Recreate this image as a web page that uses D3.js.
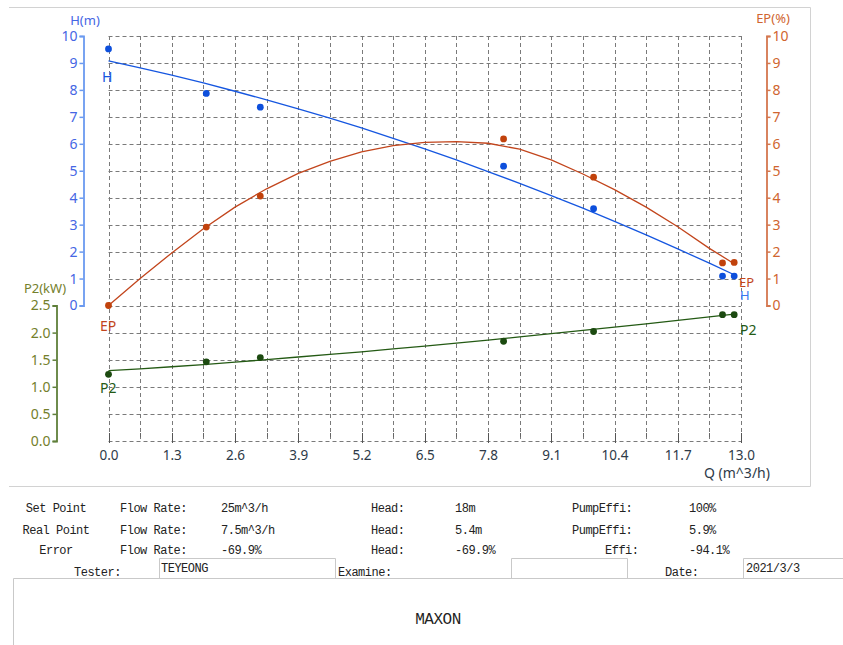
<!DOCTYPE html>
<html>
<head>
<meta charset="utf-8">
<script src="https://cdn.jsdelivr.net/npm/d3@7/dist/d3.min.js"></script>
<style>
  html, body { margin: 0; padding: 0; background: #fff; }
  svg { display: block; }
  .tbl { font-family: "Liberation Mono", "DejaVu Sans Mono", monospace; font-size: 12px; fill: #222; letter-spacing: -0.5px; }
</style>
</head>
<body>
<svg id="chart" width="843" height="645"></svg>
<script>
// Measured test points: flow (m^3/h), head (m), efficiency (%), shaft power (kW)
const flowPts  = [0, 2.01, 3.12, 8.12, 9.97, 12.62, 12.86];
const headPts  = [9.52, 7.87, 7.36, 5.17, 3.59, 1.09, 1.09];
const effPts   = [0, 2.91, 4.06, 6.18, 4.76, 1.58, 1.60];
const powerPts = [1.23, 1.46, 1.54, 1.84, 2.02, 2.33, 2.33];

// Fitted performance curves, sampled along the flow axis
const curveQ   = [0, 0.65, 1.3, 1.95, 2.6, 3.25, 3.9, 4.55, 5.2, 5.85, 6.5, 7.15, 7.8, 8.45, 9.1, 9.75, 10.4, 11.05, 11.7, 12.35, 12.86];
const headFit  = [9.08, 8.82, 8.55, 8.26, 7.95, 7.63, 7.30, 6.95, 6.59, 6.20, 5.81, 5.40, 4.97, 4.53, 4.08, 3.61, 3.12, 2.62, 2.10, 1.57, 1.14];
const effFit   = [0, 1.00, 1.95, 2.85, 3.65, 4.33, 4.90, 5.35, 5.70, 5.93, 6.05, 6.08, 6.02, 5.80, 5.40, 4.88, 4.30, 3.65, 2.92, 2.12, 1.55];
const powerFit = [1.30, 1.33, 1.37, 1.41, 1.455, 1.50, 1.55, 1.60, 1.645, 1.70, 1.75, 1.805, 1.86, 1.92, 1.98, 2.04, 2.10, 2.16, 2.225, 2.29, 2.34];

// Axis ticks
const xTicks     = [0, 1.3, 2.6, 3.9, 5.2, 6.5, 7.8, 9.1, 10.4, 11.7, 13.0];
const xMinor     = [0.65, 1.95, 3.25, 4.55, 5.85, 7.15, 8.45, 9.75, 11.05, 12.35];
const headTicks  = [0, 1, 2, 3, 4, 5, 6, 7, 8, 9, 10];
const powerTicks = [0, 0.5, 1.0, 1.5, 2.0, 2.5];

// Report table
const tableRows = [
  ["Set Point",  "Flow Rate:", "25m^3/h",  "Head:", "18m",    "PumpEffi:", "100%"],
  ["Real Point", "Flow Rate:", "7.5m^3/h", "Head:", "5.4m",   "PumpEffi:", "5.9%"],
  ["Error",      "Flow Rate:", "-69.9%",   "Head:", "-69.9%", "Effi:",     "-94.1%"]
];
const footer = { tester: "TEYEONG", date: "2021/3/3", company: "MAXON" };

const svg = d3.select("#chart");
svg.append("rect").attr("width", 843).attr("height", 645).attr("fill", "#fff");

const x  = d3.scaleLinear().domain([0, 13]).range([108.5, 741]);
const yH = d3.scaleLinear().domain([0, 10]).range([305.5, 36]);
const yE = d3.scaleLinear().domain([0, 10]).range([305.5, 36]);
const yP = d3.scaleLinear().domain([0, 2.5]).range([441, 305.5]);

const C = {
  head: "#1556e0", headAxis: "#6b9af0", headText: "#4566e4",
  eff: "#c2451c", effAxis: "#d4774f", effText: "#d0652f",
  pow: "#245a14", powAxis: "#5f7f3a", powText: "#74802c",
  grid: "#7a7a7a", frame: "#d2d2d2"
};

// Outer frame of the plot panel
svg.append("path").attr("d", "M9,7.5H810.5V486.5H9")
  .attr("stroke", C.frame).attr("fill", "none");

// Grid
const grid = svg.append("g").attr("stroke", C.grid).attr("stroke-dasharray", "4,3").attr("stroke-width", 1);
[...xTicks, ...xMinor].forEach(q => {
  const px = Math.round(x(q)) + 0.5;
  grid.append("line").attr("x1", px).attr("x2", px).attr("y1", yH(10)).attr("y2", yP(0));
});
headTicks.forEach(v => {
  const py = Math.round(yH(v)) + 0.5;
  grid.append("line").attr("x1", x(0)).attr("x2", x(13)).attr("y1", py).attr("y2", py);
});
powerTicks.slice(0, 5).forEach(v => {
  const py = Math.round(yP(v)) + 0.5;
  grid.append("line").attr("x1", x(0)).attr("x2", x(13)).attr("y1", py).attr("y2", py);
});

// X axis: ticks and labels
const xAxis = svg.append("g").attr("transform", `translate(0,${yP(0)})`);
xAxis.call(d3.axisBottom(x).tickValues(xTicks).tickFormat(d3.format(".1f")).tickSize(0).tickPadding(9));
xAxis.select(".domain").remove();
xAxis.selectAll("text").attr("font-family", "Noto Sans, sans-serif").attr("font-size", 13.5).attr("fill", "#2e3a48");
xTicks.forEach(q => {
  const px = Math.round(x(q)) + 0.5;
  xAxis.append("line").attr("x1", px).attr("x2", px).attr("y1", -8).attr("y2", 2).attr("stroke", "#555");
});
xMinor.forEach(q => {
  const px = Math.round(x(q)) + 0.5;
  xAxis.append("line").attr("x1", px).attr("x2", px).attr("y1", -8).attr("y2", -4).attr("stroke", "#666");
});
svg.append("text").attr("x", 704).attr("y", 478).text("Q (m^3/h)")
  .attr("font-family", "Noto Sans, sans-serif").attr("font-size", 14).attr("fill", "#2e3a48");

// Y axes
function styleAxis(g, lineColor, textColor) {
  g.selectAll(".domain").attr("stroke", lineColor).attr("stroke-width", 1.8);
  g.selectAll(".tick line").attr("stroke", lineColor).attr("stroke-width", 1.5);
  g.selectAll("text").attr("font-family", "Noto Sans, sans-serif").attr("font-size", 14).attr("fill", textColor);
}
const hAxis = svg.append("g").attr("transform", "translate(83.5,0)")
  .call(d3.axisLeft(yH).tickValues(headTicks).tickSize(4).tickPadding(2));
styleAxis(hAxis, C.headAxis, C.headText);

const eAxis = svg.append("g").attr("transform", "translate(766.5,0)")
  .call(d3.axisRight(yE).tickValues(headTicks).tickSize(4).tickPadding(2));
styleAxis(eAxis, C.effAxis, C.effText);

const pAxis = svg.append("g").attr("transform", "translate(56.5,0)")
  .call(d3.axisLeft(yP).tickValues(powerTicks).tickFormat(d3.format(".1f")).tickSize(4).tickPadding(2));
styleAxis(pAxis, C.powAxis, C.powText);

const axTitle = (tx, ty, t, col) => svg.append("text").attr("x", tx).attr("y", ty).text(t)
  .attr("font-family", "Noto Sans, sans-serif").attr("font-size", 13).attr("fill", col).attr("text-anchor", "middle");
axTitle(85, 25, "H(m)", C.headText);
axTitle(773, 23, "EP(%)", C.effText);
axTitle(45, 293, "P2(kW)", C.powText);

// Fitted curves
const series = [
  { fit: headFit,  pts: headPts,  y: yH, line: C.head, dot: "#0d4fdc" },
  { fit: effFit,   pts: effPts,   y: yE, line: C.eff,  dot: "#c1420c" },
  { fit: powerFit, pts: powerPts, y: yP, line: C.pow,  dot: "#1c4a10" }
];
series.forEach(s => {
  const line = d3.line().x(d => x(d[0])).y(d => s.y(d[1]));
  svg.append("path").datum(curveQ.map((q, i) => [q, s.fit[i]]))
    .attr("d", line).attr("fill", "none").attr("stroke", s.line).attr("stroke-width", 1.3);
});
series.forEach(s => {
  svg.append("g").selectAll("circle").data(flowPts.map((q, i) => [q, s.pts[i]])).join("circle")
    .attr("cx", d => x(d[0])).attr("cy", d => s.y(d[1])).attr("r", 3.4).attr("fill", s.dot);
});

// Curve name labels at both ends
const curveLabel = (tx, ty, t, col, fs = 14) => svg.append("text").attr("x", tx).attr("y", ty).text(t)
  .attr("font-family", "Noto Sans, sans-serif").attr("font-size", fs).attr("fill", col);
curveLabel(102, 82, "H", C.head);
curveLabel(100, 331, "EP", C.eff);
curveLabel(100, 393, "P2", C.pow);
curveLabel(739, 287, "EP", C.eff, 13);
curveLabel(740, 300, "H", "#3a78f0", 13);
curveLabel(740, 335, "P2", C.pow);

// Report table
const colX = [56, 120, 221, 371, 455, 572, 689];
const rowY = [512, 534, 554];
const tbl = svg.append("g").attr("class", "tbl");
tableRows.forEach((row, r) => {
  row.forEach((cell, c) => {
    const cx = (c === 5 && r === 2) ? 605 : colX[c];
    const t = tbl.append("text").attr("x", cx).attr("y", rowY[r]).text(cell);
    if (c === 0) t.attr("text-anchor", "middle");
  });
});
tbl.append("text").attr("x", 74).attr("y", 576).text("Tester:");
tbl.append("text").attr("x", 161).attr("y", 572).text(footer.tester);
tbl.append("text").attr("x", 338).attr("y", 576).text("Examine:");
tbl.append("text").attr("x", 665).attr("y", 576).text("Date:");
tbl.append("text").attr("x", 746).attr("y", 572).text(footer.date);
tbl.append("text").attr("x", 438).attr("y", 624).attr("text-anchor", "middle")
  .attr("font-size", 16).text(footer.company);

const lines = svg.append("g").attr("stroke", "#c9c9c9").attr("fill", "none");
lines.append("path").attr("d", "M13.5,645V578.5H843");
lines.append("path").attr("d", "M159.5,578V558.5H335.5V578");
lines.append("path").attr("d", "M511.5,578V558.5H627.5V578");
lines.append("path").attr("d", "M743.5,578V558.5H843");
</script>
</body>
</html>
